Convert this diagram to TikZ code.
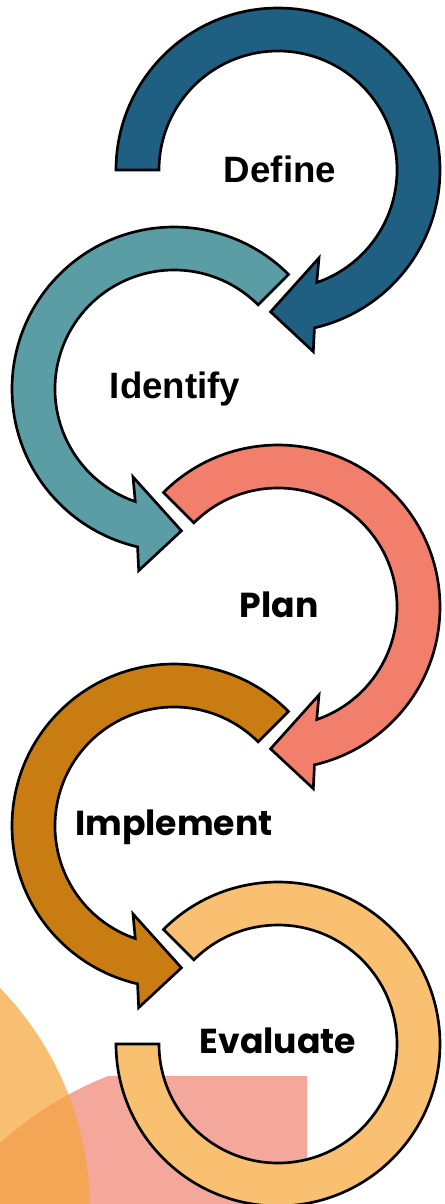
\documentclass[tikz,border=0pt]{standalone}
\usepackage{fontspec}
\newfontfamily\arialfont{Liberation Sans}
\newfontfamily\popfont{Poppins}

\tikzset{
  arrowshape/.style={draw={rgb, 255:red, 0; green, 0; blue, 0 }, line width=2, line join=miter},
  labelA/.style={anchor=base, font=\arialfont\bfseries\fontsize{27.5}{32}\selectfont},
  labelB/.style={anchor=base, font=\popfont\bfseries\fontsize{26}{31}\selectfont},
}

\begin{document}
\begin{tikzpicture}[x=0.75pt,y=0.75pt,yscale=-1,xscale=1]
\useasboundingbox (0,0) rectangle (444,1204);

%Shape: Circle [id:bg pink]
\begin{scope}
\clip (0,1076) rectangle (307,1204);
\fill [fill={rgb, 255:red, 244; green, 168; blue, 156 }] (240,1410) circle (359);
\end{scope}
%Shape: Circle [id:bg orange]
\fill [fill={rgb, 255:red, 245; green, 165; blue, 56 }, fill opacity=0.71] (-229,1210) circle (319);

%Shape: Circular Arrow [id:define]
\begin{scope}[shift={(278,170)}]
\draw [arrowshape, fill={rgb, 255:red, 30; green, 95; blue, 130 }] (180:162) arc [start angle=180, end angle=437, radius=162] -- (439:185) -- (453:142) -- (425:97) -- (431:119) arc [start angle=431, end angle=180, radius=119] -- cycle ;
\end{scope}
%Shape: Circular Arrow [id:identify]
\begin{scope}[shift={(174,389)}, xscale=-1]
\draw [arrowshape, fill={rgb, 255:red, 91; green, 157; blue, 165 }] (225:162) arc [start angle=225, end angle=437, radius=162] -- (439:185) -- (453:142) -- (425:97) -- (431:119) arc [start angle=431, end angle=225, radius=119] -- cycle ;
\end{scope}
%Shape: Circular Arrow [id:plan]
\begin{scope}[shift={(278,607)}]
\draw [arrowshape, fill={rgb, 255:red, 242; green, 127; blue, 108 }] (225:162) arc [start angle=225, end angle=437, radius=162] -- (439:185) -- (453:142) -- (425:97) -- (431:119) arc [start angle=431, end angle=225, radius=119] -- cycle ;
\end{scope}
%Shape: Circular Arrow [id:implement]
\begin{scope}[shift={(174,826)}, xscale=-1]
\draw [arrowshape, fill={rgb, 255:red, 201; green, 124; blue, 18 }] (225:162) arc [start angle=225, end angle=437, radius=162] -- (439:185) -- (453:142) -- (425:97) -- (431:119) arc [start angle=431, end angle=225, radius=119] -- cycle ;
\end{scope}
%Shape: Block Arc [id:evaluate]
\begin{scope}[shift={(278,1044)}]
\draw [arrowshape, fill={rgb, 255:red, 248; green, 192; blue, 112 }] (225:162) arc [start angle=225, end angle=540, radius=162] -- (540:119) arc [start angle=540, end angle=225, radius=119] -- cycle ;
\end{scope}

% Text Node
\draw (280,182) node [labelA] (define) {Define};
% Text Node
\draw (175,398) node [labelA] (identify) {Identify};
% Text Node
\draw (279,617) node [labelB] (plan) {Plan};
% Text Node
\draw (174,835) node [labelB] (implement) {Implement};
% Text Node
\draw (278,1053) node [labelB] (evaluate) {Evaluate};

\end{tikzpicture}
\end{document}
